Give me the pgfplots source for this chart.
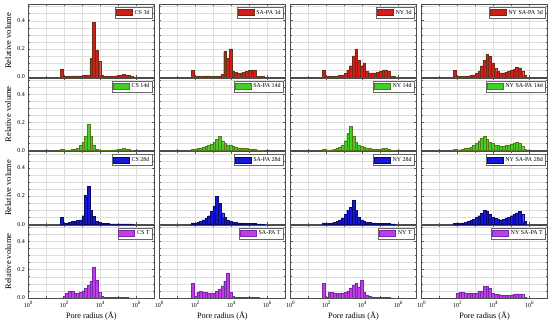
\documentclass[border=0pt]{standalone}
\usepackage{fontspec}
\setmainfont{Liberation Serif}
\usepackage{pgfplots}
\usepackage{pgfplotstable}
\pgfplotsset{compat=1.18}

\definecolor{fA}{HTML}{D01E1E}\definecolor{eA}{HTML}{683212}
\definecolor{fB}{HTML}{3FCF26}\definecolor{eB}{HTML}{587A1C}
\definecolor{fC}{HTML}{1616D6}\definecolor{eC}{HTML}{0A0A6A}
\definecolor{fD}{HTML}{C43CE8}\definecolor{eD}{HTML}{7329A8}

% log10(pore radius) bin centres and relative volumes
\pgfplotstableread{
x     cs     sapa   ny     nysapa
1.85  0.052  0.048  0.050  0.048
2.00  0.006  0.003  0.004  0.004
2.15  0.006  0.003  0.004  0.004
2.30  0.007  0.004  0.005  0.005
2.45  0.008  0.005  0.006  0.006
2.60  0.008  0.008  0.008  0.008
2.75  0.008  0.008  0.010  0.010
2.90  0.008  0.006  0.015  0.015
3.05  0.010  0.005  0.025  0.025
3.20  0.015  0.006  0.050  0.040
3.35  0.010  0.008  0.080  0.080
3.50  0.130  0.020  0.150  0.120
3.65  0.390  0.180  0.200  0.160
3.80  0.190  0.130  0.120  0.150
3.95  0.110  0.200  0.080  0.100
4.10  0.010  0.040  0.100  0.060
4.25  0.005  0.035  0.040  0.040
4.40  0.005  0.025  0.030  0.030
4.55  0.005  0.030  0.030  0.030
4.70  0.006  0.035  0.030  0.035
4.85  0.008  0.040  0.035  0.040
5.00  0.010  0.045  0.040  0.045
5.15  0.012  0.050  0.045  0.055
5.30  0.018  0.050  0.050  0.070
5.45  0.015  0.005  0.040  0.065
5.60  0.010  0.003  0.005  0.040
5.75  0.005  0.002  0.003  0.010
}\tA
\pgfplotstableread{
x     cs     sapa   ny     nysapa
1.85  0.012  0.010  0.010  0.008
2.00  0.004  0.010  0.004  0.004
2.15  0.004  0.015  0.005  0.006
2.30  0.005  0.020  0.006  0.010
2.45  0.008  0.025  0.008  0.015
2.60  0.010  0.030  0.015  0.020
2.75  0.020  0.035  0.025  0.025
2.90  0.035  0.045  0.040  0.035
3.05  0.060  0.060  0.070  0.050
3.20  0.100  0.080  0.120  0.070
3.35  0.185  0.100  0.170  0.090
3.50  0.100  0.070  0.100  0.100
3.65  0.040  0.050  0.060  0.080
3.80  0.010  0.040  0.040  0.060
3.95  0.005  0.040  0.030  0.050
4.10  0.004  0.030  0.025  0.040
4.25  0.004  0.025  0.020  0.035
4.40  0.004  0.020  0.015  0.030
4.55  0.004  0.020  0.012  0.030
4.70  0.005  0.015  0.010  0.035
4.85  0.006  0.015  0.010  0.040
5.00  0.010  0.010  0.012  0.045
5.15  0.012  0.010  0.015  0.055
5.30  0.014  0.008  0.015  0.060
5.45  0.012  0.005  0.010  0.055
5.60  0.008  0.003  0.005  0.030
5.75  0.004  0.002  0.002  0.010
}\tB
\pgfplotstableread{
x     cs     sapa   ny     nysapa
1.85  0.048  0.010  0.010  0.008
2.00  0.004  0.008  0.004  0.004
2.15  0.008  0.012  0.006  0.006
2.30  0.012  0.020  0.010  0.010
2.45  0.018  0.030  0.015  0.015
2.60  0.022  0.040  0.020  0.020
2.75  0.025  0.060  0.030  0.025
2.90  0.030  0.090  0.045  0.035
3.05  0.060  0.130  0.070  0.050
3.20  0.205  0.200  0.100  0.060
3.35  0.270  0.150  0.120  0.080
3.50  0.100  0.080  0.170  0.100
3.65  0.055  0.050  0.100  0.090
3.80  0.020  0.030  0.050  0.070
3.95  0.015  0.020  0.030  0.050
4.10  0.005  0.015  0.020  0.040
4.25  0.004  0.012  0.015  0.035
4.40  0.004  0.010  0.012  0.030
4.55  0.003  0.010  0.010  0.035
4.70  0.003  0.008  0.010  0.040
4.85  0.003  0.008  0.008  0.050
5.00  0.003  0.006  0.008  0.060
5.15  0.003  0.005  0.006  0.070
5.30  0.003  0.004  0.005  0.080
5.45  0.003  0.003  0.004  0.090
5.60  0.002  0.002  0.003  0.070
5.75  0.002  0.001  0.002  0.020
}\tC
\pgfplotstableread{
x     cs     sapa   ny     nysapa
1.85  0.000  0.105  0.100  0.000
2.00  0.012  0.010  0.005  0.030
2.15  0.030  0.040  0.040  0.038
2.30  0.050  0.045  0.040  0.038
2.45  0.045  0.040  0.035  0.035
2.60  0.035  0.040  0.030  0.030
2.75  0.030  0.035  0.030  0.030
2.90  0.040  0.035  0.035  0.030
3.05  0.050  0.030  0.040  0.035
3.20  0.065  0.045  0.050  0.050
3.35  0.090  0.060  0.070  0.050
3.50  0.120  0.085  0.090  0.080
3.65  0.220  0.120  0.105  0.080
3.80  0.125  0.175  0.075  0.065
3.95  0.040  0.040  0.125  0.030
4.10  0.008  0.010  0.040  0.025
4.25  0.005  0.005  0.015  0.025
4.40  0.003  0.004  0.008  0.020
4.55  0.002  0.003  0.006  0.018
4.70  0.002  0.002  0.005  0.018
4.85  0.002  0.002  0.004  0.018
5.00  0.001  0.001  0.003  0.020
5.15  0.001  0.001  0.002  0.025
5.30  0.001  0.001  0.002  0.028
5.45  0.001  0.001  0.001  0.028
5.60  0.000  0.000  0.000  0.022
5.75  0.000  0.000  0.000  0.005
}\tD

\pgfplotsset{
  base/.style={
    anchor=south west, scale only axis, width=126pt, height=72.5pt,
    xmin=0, xmax=7, ymin=0, ymax=0.515,
    xtick={0,2,4,6}, minor xtick={1,3,5,7},
    ytick={0,0.2,0.4}, minor ytick={0.05,0.1,0.15,0.25,0.3,0.35,0.45,0.5},
    xticklabels={}, yticklabels={},
    grid=both,
    major grid style={black!13, line width=0.35pt},
    minor grid style={black!13, line width=0.35pt},
    axis line style={black!70, line width=0.45pt},
    tick style={black!65, line width=0.4pt},
    major tick length=2pt, minor tick length=1.3pt,
    tick label style={font=\fontsize{6}{7}\selectfont},
    legend style={at={(axis description cs:0.985,0.965)}, anchor=north east,
      draw=black!60, line width=0.4pt, fill=white, inner sep=0.7pt,
      font=\fontsize{6}{7}\selectfont},
  },
  sw/.style={legend image code/.code={\draw[##1,line width=0.6pt] (0pt,-3pt) rectangle (16pt,3pt);}},
  yl/.style={yticklabels={0.0,0.2,0.4}, ylabel={Relative volume},
    ylabel style={font=\fontsize{8.5}{9}\selectfont, at={(axis description cs:-0.16,0.5)}, anchor=center}},
  xl/.style={xticklabels={10\textsuperscript{0},10\textsuperscript{2},10\textsuperscript{4},10\textsuperscript{6}},
    xlabel={Pore radius (Å)},
    xlabel style={font=\fontsize{8.2}{9}\selectfont, at={(axis description cs:0.5,-0.245)}, anchor=center}},
}

\newcommand\panel[8]{%
\begin{axis}[base,at={(#1pt,#2pt)},#8]
\addplot[ybar,bar width=0.15,bar shift=0pt,fill=#5,draw=#6,line width=0.45pt,sw] table[x=x,y=#4]{#3};
\addlegendentry{#7}
\end{axis}}

\begin{document}
\begin{tikzpicture}
\useasboundingbox (0,0) rectangle (550pt,323pt);
% row 1: 3d
\panel{28.3}{246}{\tA}{cs}{fA}{eA}{CS 3d}{yl}
\panel{159.4}{246}{\tA}{sapa}{fA}{eA}{SA-PA 3d}{}
\panel{290.5}{246}{\tA}{ny}{fA}{eA}{NY 3d}{}
\panel{421.6}{246}{\tA}{nysapa}{fA}{eA}{NY SA-PA 3d}{}
% row 2: 14d
\panel{28.3}{172.4}{\tB}{cs}{fB}{eB}{CS 14d}{yl}
\panel{159.4}{172.4}{\tB}{sapa}{fB}{eB}{SA-PA 14d}{}
\panel{290.5}{172.4}{\tB}{ny}{fB}{eB}{NY 14d}{}
\panel{421.6}{172.4}{\tB}{nysapa}{fB}{eB}{NY SA-PA 14d}{}
% row 3: 28d
\panel{28.3}{98.8}{\tC}{cs}{fC}{eC}{CS 28d}{yl}
\panel{159.4}{98.8}{\tC}{sapa}{fC}{eC}{SA-PA 28d}{}
\panel{290.5}{98.8}{\tC}{ny}{fC}{eC}{NY 28d}{}
\panel{421.6}{98.8}{\tC}{nysapa}{fC}{eC}{NY SA-PA 28d}{}
% row 4: T
\panel{28.3}{25.2}{\tD}{cs}{fD}{eD}{CS T}{yl,xl}
\panel{159.4}{25.2}{\tD}{sapa}{fD}{eD}{SA-PA T}{xl}
\panel{290.5}{25.2}{\tD}{ny}{fD}{eD}{NY T}{xl}
\panel{421.6}{25.2}{\tD}{nysapa}{fD}{eD}{NY SA-PA T}{xl}
\end{tikzpicture}
\end{document}
